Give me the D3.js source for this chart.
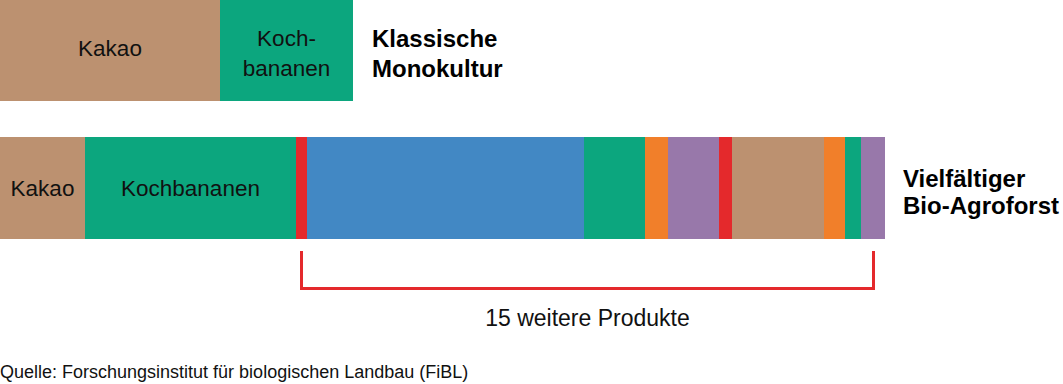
<!DOCTYPE html>
<html>
<head>
<meta charset="utf-8">
<script src="https://cdn.jsdelivr.net/npm/d3@7"></script>
<style>
  body { margin: 0; background: #fff; }
  text { font-family: "Liberation Sans", Arial, sans-serif; fill: #111; }
</style>
</head>
<body>
<div id="chart"></div>
<script>
// Chart size
var svgWidth = 1063;
var svgHeight = 384;

// Segment widths (relative units)
var monoNames = ["Kakao", "Kochbananen"];
var monoValues = [220, 133];
var monoColors = ["kakao", "banane"];

var agroNames = ["Kakao", "Kochbananen", "P1", "P2", "P3", "P4", "P5", "P6", "P7", "P8", "P9", "P10"];
var agroValues = [85, 211, 11, 277, 61, 23, 51, 13, 92, 21, 16, 24];
var agroColors = ["kakao", "banane", "rot", "blau", "banane", "orange", "lila", "rot", "kakao", "orange", "banane", "lila"];

// Labels
var monoTitle = ["Klassische", "Monokultur"];
var agroTitle = ["Vielfältiger", "Bio-Agroforst"];
var bracketLabel = "15 weitere Produkte";
var source = "Quelle: Forschungsinstitut für biologischen Landbau (FiBL)";

var palette = {
    kakao: "#bc9170",
    banane: "#0ca67e",
    rot: "#e4292c",
    blau: "#4288c4",
    orange: "#f17f2a",
    lila: "#9878aa"
};

var svg = d3.select("#chart").append("svg")
    .attr("width", svgWidth)
    .attr("height", svgHeight);

// one unit = one pixel, both bars share the scale
var xScale = d3.scaleLinear()
    .domain([0, d3.sum(agroValues)])
    .range([0, 885]);

function stack(values, names, colors) {
    var acc = 0;
    return values.map(function(v, i) {
        var d = {name: names[i], value: v, color: colors[i], x0: acc, x1: acc + v};
        acc += v;
        return d;
    });
}

var monoData = stack(monoValues, monoNames, monoColors);
var agroData = stack(agroValues, agroNames, agroColors);

function drawBar(data, y, h) {
    var g = svg.append("g").attr("transform", `translate(0, ${y})`);
    g.selectAll("rect")
        .data(data)
        .enter()
        .append("rect")
        .attr("x", d => xScale(d.x0))
        .attr("width", d => xScale(d.x1) - xScale(d.x0))
        .attr("y", 0)
        .attr("height", h)
        .attr("fill", d => palette[d.color]);
    return g;
}

var monoG = drawBar(monoData, 0, 101);
var agroG = drawBar(agroData, 137, 102);

// labels in the top bar
monoG.append("text")
    .attr("x", (xScale(monoData[0].x0) + xScale(monoData[0].x1)) / 2)
    .attr("y", 56)
    .attr("text-anchor", "middle")
    .style("font-size", "22.5px")
    .text("Kakao");

var kochLabel = monoG.append("text")
    .attr("text-anchor", "middle")
    .style("font-size", "22.5px");
["Koch-", "bananen"].forEach(function(t, i) {
    kochLabel.append("tspan")
        .attr("x", (xScale(monoData[1].x0) + xScale(monoData[1].x1)) / 2)
        .attr("y", 46 + i * 30)
        .text(t);
});

// labels in the bottom bar
agroG.selectAll("text.seg")
    .data(agroData.slice(0, 2))
    .enter()
    .append("text")
    .attr("class", "seg")
    .attr("x", d => (xScale(d.x0) + xScale(d.x1)) / 2)
    .attr("y", 59)
    .attr("text-anchor", "middle")
    .style("font-size", "22.5px")
    .text(d => d.name);

// titles right of the bars
function drawTitle(lines, x, y, lh) {
    var t = svg.append("text")
        .attr("x", x)
        .style("font-size", "24px")
        .style("font-weight", "bold")
        .style("fill", "#000");
    lines.forEach(function(l, i) {
        t.append("tspan").attr("x", x).attr("y", y + i * lh).text(l);
    });
}
drawTitle(monoTitle, xScale(d3.sum(monoValues)) + 19, 47, 30);
drawTitle(agroTitle, xScale(d3.sum(agroValues)) + 18, 187, 27);

// bracket under the other products
var bx0 = xScale(agroData[2].x0) + 5.5;
var bx1 = xScale(agroData[agroData.length - 1].x1) - 11.5;
svg.append("path")
    .attr("d", `M${bx0},251V288.5H${bx1}V251`)
    .attr("fill", "none")
    .attr("stroke", "#e4292c")
    .attr("stroke-width", 3);

svg.append("text")
    .attr("x", (bx0 + bx1) / 2)
    .attr("y", 326)
    .attr("text-anchor", "middle")
    .style("font-size", "23px")
    .text(bracketLabel);

svg.append("text")
    .attr("x", 0)
    .attr("y", 378)
    .style("font-size", "18px")
    .text(source);
</script>
</body>
</html>
